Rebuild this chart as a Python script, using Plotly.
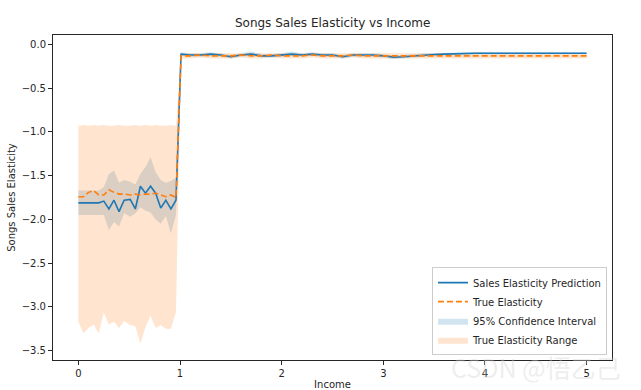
import plotly.graph_objects as go

# ---- data ----
income = [0.00, 0.05, 0.10, 0.15, 0.20, 0.25, 0.30, 0.35, 0.40, 0.45,
          0.51, 0.56, 0.61, 0.66, 0.71, 0.76, 0.81, 0.86, 0.91, 0.96,
          1.01, 1.10, 1.20, 1.30, 1.40, 1.50, 1.60, 1.70, 1.80, 1.90,
          2.00, 2.10, 2.20, 2.30, 2.40, 2.50, 2.60, 2.70, 2.80, 2.90,
          3.00, 3.10, 3.20, 3.30, 3.40, 3.50, 3.60, 3.70, 3.80, 3.90,
          4.00, 4.10, 4.20, 4.30, 4.40, 4.50, 4.60, 4.70, 4.80, 4.90, 5.00]

pred_elasticity = [-1.81, -1.81, -1.81, -1.81, -1.81, -1.79, -1.88, -1.78, -1.91, -1.78,
                   -1.77, -1.88, -1.62, -1.70, -1.62, -1.70, -1.87, -1.78, -1.88, -1.78,
                   -0.11, -0.12, -0.12, -0.11, -0.12, -0.14, -0.12, -0.11, -0.13, -0.13,
                   -0.12, -0.11, -0.12, -0.11, -0.12, -0.12, -0.14, -0.12, -0.12, -0.12,
                   -0.13, -0.145, -0.14, -0.13, -0.12, -0.115, -0.11, -0.105, -0.10, -0.10,
                   -0.10, -0.10, -0.10, -0.10, -0.10, -0.10, -0.10, -0.10, -0.10, -0.10, -0.10]

true_elasticity = [-1.74, -1.74, -1.69, -1.67, -1.72, -1.72, -1.66, -1.69, -1.71, -1.71,
                   -1.72, -1.71, -1.72, -1.71, -1.71, -1.70, -1.72, -1.74, -1.72, -1.75,
                   -0.13, -0.13, -0.12, -0.13, -0.13, -0.13, -0.12, -0.13, -0.13, -0.12,
                   -0.13, -0.13, -0.13, -0.12, -0.13, -0.13, -0.13, -0.12, -0.13, -0.13,
                   -0.13, -0.13, -0.13, -0.13, -0.13, -0.13, -0.13, -0.13, -0.13, -0.13,
                   -0.13, -0.13, -0.13, -0.13, -0.13, -0.13, -0.13, -0.13, -0.13, -0.13, -0.13]

ci_upper = [-1.67, -1.67, -1.67, -1.67, -1.67, -1.63, -1.48, -1.44, -1.58, -1.55,
            -1.57, -1.60, -1.48, -1.40, -1.29, -1.46, -1.55, -1.58, -1.56, -1.52,
            -0.09, -0.10, -0.10, -0.09, -0.10, -0.12, -0.10, -0.08, -0.11, -0.11,
            -0.10, -0.08, -0.10, -0.09, -0.10, -0.10, -0.12, -0.10, -0.10, -0.10,
            -0.11, -0.125, -0.12, -0.11, -0.10, -0.10, -0.095, -0.09, -0.085, -0.085,
            -0.085, -0.09, -0.09, -0.09, -0.09, -0.09, -0.09, -0.09, -0.09, -0.09, -0.09]

ci_lower = [-1.95, -1.95, -1.95, -1.95, -1.95, -1.95, -2.12, -2.03, -2.08, -1.93,
            -1.97, -1.93, -1.86, -1.90, -1.92, -2.00, -2.05, -1.96, -2.16, -1.95,
            -0.13, -0.14, -0.14, -0.13, -0.14, -0.16, -0.14, -0.13, -0.15, -0.15,
            -0.14, -0.13, -0.14, -0.13, -0.14, -0.14, -0.16, -0.14, -0.14, -0.14,
            -0.15, -0.165, -0.16, -0.15, -0.14, -0.13, -0.125, -0.12, -0.115, -0.115,
            -0.115, -0.11, -0.11, -0.11, -0.11, -0.11, -0.11, -0.11, -0.11, -0.11, -0.11]

range_upper = [-0.93, -0.92, -0.93, -0.92, -0.93, -0.92, -0.93, -0.93, -0.92, -0.93,
               -0.93, -0.92, -0.93, -0.92, -0.93, -0.92, -0.93, -0.93, -0.92, -0.93,
               -0.10, -0.10, -0.10, -0.10, -0.10, -0.10, -0.10, -0.10, -0.10, -0.10,
               -0.10, -0.10, -0.10, -0.10, -0.10, -0.10, -0.10, -0.10, -0.10, -0.10,
               -0.10, -0.10, -0.10, -0.10, -0.10, -0.10, -0.10, -0.10, -0.10, -0.10,
               -0.10, -0.10, -0.10, -0.10, -0.10, -0.10, -0.10, -0.10, -0.10, -0.10, -0.10]

range_lower = [-3.17, -3.30, -3.24, -3.20, -3.30, -3.07, -3.20, -3.17, -3.24, -3.16,
               -3.21, -3.22, -3.42, -3.23, -3.10, -3.24, -3.21, -3.25, -3.25, -3.06,
               -0.16, -0.16, -0.15, -0.16, -0.16, -0.16, -0.15, -0.16, -0.16, -0.15,
               -0.16, -0.16, -0.16, -0.15, -0.16, -0.16, -0.16, -0.15, -0.16, -0.16,
               -0.16, -0.16, -0.16, -0.16, -0.16, -0.16, -0.16, -0.16, -0.16, -0.16,
               -0.16, -0.16, -0.16, -0.16, -0.16, -0.16, -0.16, -0.16, -0.16, -0.16, -0.16]

x_ticks = [0, 1, 2, 3, 4, 5]
y_ticks = [0.0, -0.5, -1.0, -1.5, -2.0, -2.5, -3.0, -3.5]
y_tick_labels = ["0.0", "\u22120.5", "\u22121.0", "\u22121.5", "\u22122.0", "\u22122.5", "\u22123.0", "\u22123.5"]

BLUE = "#1f77b4"
ORANGE = "#ff7f0e"
FONT = "DejaVu Sans"

fig = go.Figure()

# confidence interval band
fig.add_trace(go.Scatter(
    x=income + income[::-1], y=ci_upper + ci_lower[::-1],
    fill="toself", fillcolor="rgba(31,119,180,0.2)", line=dict(width=0),
    mode="lines", name="95% Confidence Interval", legendrank=3, hoverinfo="skip"))

# true elasticity range band
fig.add_trace(go.Scatter(
    x=income + income[::-1], y=range_upper + range_lower[::-1],
    fill="toself", fillcolor="rgba(255,127,14,0.2)", line=dict(width=0),
    mode="lines", name="True Elasticity Range", legendrank=4, hoverinfo="skip"))

fig.add_trace(go.Scatter(
    x=income, y=pred_elasticity, mode="lines",
    line=dict(color=BLUE, width=1.6), name="Sales Elasticity Prediction", legendrank=1))

fig.add_trace(go.Scatter(
    x=income, y=true_elasticity, mode="lines",
    line=dict(color=ORANGE, width=1.6, dash="6px,3px"), name="True Elasticity", legendrank=2))

axis_common = dict(
    showline=True, linecolor="#262626", linewidth=1, mirror=True,
    ticks="outside", ticklen=4, tickcolor="#262626", tickwidth=1,
    showgrid=False, zeroline=False, automargin=False,
    tickfont=dict(family=FONT, size=10, color="#262626"),
)

fig.update_layout(
    width=641, height=390,
    paper_bgcolor="white", plot_bgcolor="white",
    margin=dict(l=53, r=29, t=35, b=30),
    font=dict(family=FONT, size=10, color="#262626"),
    title=dict(text="Songs Sales Elasticity vs Income", x=0.519, xanchor="center",
               y=0.941, yanchor="middle", font=dict(family=FONT, size=12, color="#262626")),
    xaxis=dict(range=[-0.25, 5.25], tickvals=x_ticks,
               title=dict(text="Income", standoff=3, font=dict(family=FONT, size=10)),
               **axis_common),
    yaxis=dict(range=[-3.606, 0.108], tickvals=y_ticks, ticktext=y_tick_labels,
               title=dict(text="Songs Sales Elasticity", standoff=4, font=dict(family=FONT, size=10)),
               **axis_common),
    showlegend=True,
    legend=dict(x=0.991, y=0.015, xanchor="right", yanchor="bottom",
                bgcolor="rgba(255,255,255,0.8)", bordercolor="#cccccc", borderwidth=1,
                font=dict(family=FONT, size=10, color="#262626"),
                tracegroupgap=0, itemwidth=30),
    annotations=[dict(text="CSDN @悟乙己", xref="paper", yref="paper",
                      x=1.02, y=-0.022, xanchor="right", yanchor="middle",
                      showarrow=False,
                      font=dict(family="Noto Sans CJK SC", size=25, color="rgba(210,210,210,0.4)"))],
)

fig.write_html("out.html", config={"displayModeBar": False},
               post_script="document.body.style.margin='0';document.body.style.overflow='hidden';")
